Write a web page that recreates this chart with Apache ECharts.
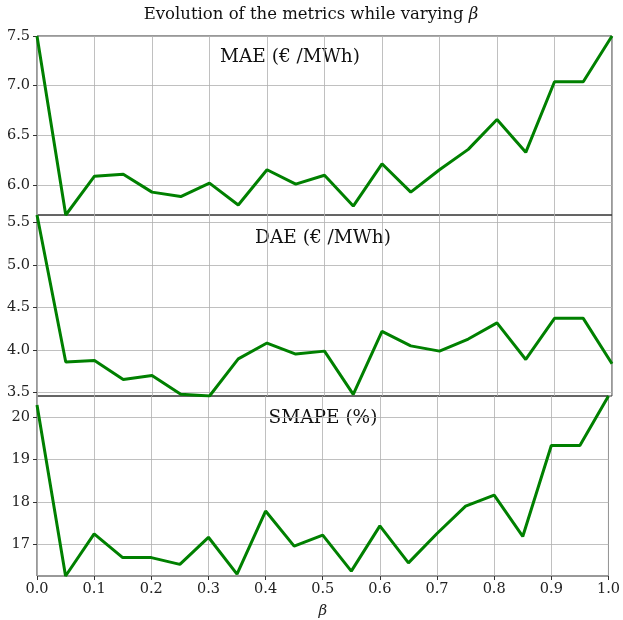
<!DOCTYPE html>
<html>
<head>
<meta charset="utf-8">
<script src="https://cdn.jsdelivr.net/npm/echarts@6/dist/echarts.min.js"></script>
<style>html,body{margin:0;padding:0;background:#fff}#c{width:623px;height:620px}</style>
</head>
<body>
<div id="c"></div>
<script>
const beta = [0.0,0.05,0.1,0.15,0.2,0.25,0.3,0.35,0.4,0.45,0.5,0.55,0.6,0.65,0.7,0.75,0.8,0.85,0.9,0.95,1.0];
const mae = [7.50,5.70,6.09,6.11,5.93,5.885,6.02,5.80,6.155,6.01,6.10,5.79,6.215,5.93,6.155,6.36,6.66,6.33,7.04,7.04,7.50];
const dae = [5.59,3.86,3.877,3.653,3.70,3.48,3.46,3.897,4.083,3.953,3.988,3.48,4.22,4.05,3.988,4.13,4.32,3.89,4.374,4.374,3.84];
const smape = [20.29,16.245,17.24,16.68,16.68,16.52,17.16,16.29,17.78,16.95,17.21,16.36,17.43,16.555,17.25,17.895,18.157,17.18,19.33,19.33,20.50];
const xTicks = [0,0.1,0.2,0.3,0.4,0.5,0.6,0.7,0.8,0.9,1.0];
const maeTicks = [6.0,6.5,7.0,7.5];
const daeTicks = [3.5,4.0,4.5,5.0,5.5];
const smapeTicks = [17,18,19,20];
const panelTitles = ['MAE (€ /MWh)','DAE (€ /MWh)','SMAPE (%)'];
const mainTitle = 'Evolution of the metrics while varying ';
const xName = 'β';

const FONT = 'DejaVu Serif';
const gridLine = {show:true, lineStyle:{color:'#b0b0b0', width:0.8}};
const grids = [
  {left:37, right:11, top:36, height:179},
  {left:37, right:11, top:215, height:181},
  {left:37, right:11, top:396, height:180}
].map(g => Object.assign(g, {show:true, borderColor:'#333', borderWidth:1, containLabel:false}));

function xAx(i, last){
  return {type:'value', gridIndex:i, min:0, max:1, interval:0.1,
    axisLine:{show:false}, splitLine:gridLine,
    axisTick:{show:last, length:4, inside:false, lineStyle:{color:'#333'}},
    axisLabel:{show:last, fontFamily:FONT, fontSize:14.5, color:'#222', margin:6,
      formatter:v=>v.toFixed(1)},
    name: last ? xName : '', nameLocation:'middle', nameGap:28,
    nameTextStyle:{fontFamily:FONT, fontStyle:'italic', fontSize:15, color:'#222'}};
}
function yAx(i, ticks, dec){
  return {type:'value', gridIndex:i, min:'dataMin', max:'dataMax',
    axisLine:{show:false}, splitLine:gridLine,
    axisTick:{show:true, length:4, customValues:ticks, lineStyle:{color:'#333'}},
    axisLabel:{fontFamily:FONT, fontSize:14.5, color:'#222', margin:7, customValues:ticks,
      formatter:v=>v.toFixed(dec)}};
}
function ser(i, data){
  return {type:'line', xAxisIndex:i, yAxisIndex:i, data:beta.map((b,k)=>[b,data[k]]),
    symbol:'none', lineStyle:{color:'#008000', width:3}, itemStyle:{color:'#008000'}};
}

const chart = echarts.init(document.getElementById('c'), null, {renderer:'canvas'});
const tfont = '18.5px "'+FONT+'"';
chart.setOption({
  animation:false,
  grid:grids,
  xAxis:[xAx(0,false), xAx(1,false), xAx(2,true)],
  yAxis:[yAx(0,maeTicks,1), yAx(1,daeTicks,1), yAx(2,smapeTicks,0)],
  series:[ser(0,mae), ser(1,dae), ser(2,smape)],
  graphic:[
    {type:'text', x:311, y:15, style:{text:mainTitle+'{b|'+xName+'}', font:'16.5px "'+FONT+'"', fill:'#111',
      align:'center', verticalAlign:'middle',
      rich:{b:{fontStyle:'italic', fontFamily:FONT, fontSize:16.5, fill:'#111'}}}},
    {type:'text', x:290, y:57, style:{text:panelTitles[0], font:tfont, fill:'#111', align:'center', verticalAlign:'middle'}},
    {type:'text', x:323, y:238, style:{text:panelTitles[1], font:tfont, fill:'#111', align:'center', verticalAlign:'middle'}},
    {type:'text', x:323, y:418, style:{text:panelTitles[2], font:tfont, fill:'#111', align:'center', verticalAlign:'middle'}}
  ]
});
</script>
</body>
</html>
